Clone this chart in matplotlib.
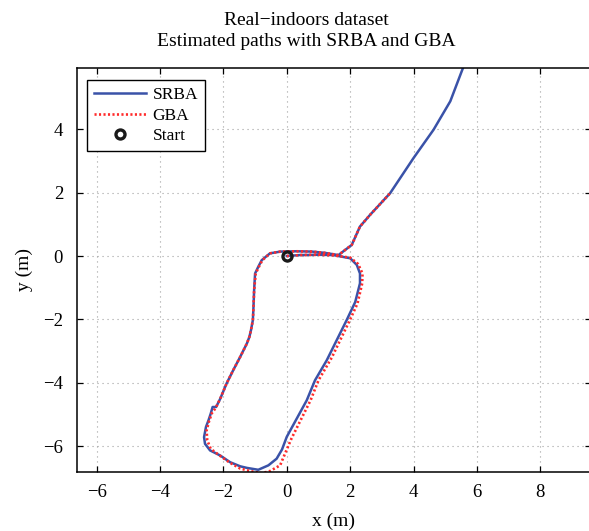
import matplotlib
matplotlib.use('Agg')
import matplotlib.pyplot as plt

plt.rcParams['font.family'] = ['Liberation Serif', 'DejaVu Serif']

# SRBA estimated path (m)
srba_x = [0.0, 0.4, 1.0, 1.47, 2.0, 2.21, 2.31, 2.31, 2.16, 1.89, 1.26, 0.89, 0.63,
          0.0, -0.15, -0.32, -0.58, -0.9, -1.26, -1.47, -1.79, -2.1, -2.42, -2.58,
          -2.61, -2.55, -2.47, -2.4, -2.34, -2.23, -2.1, -1.9, -1.69, -1.47, -1.26,
          -1.18, -1.13, -1.07, -1.05, -1.03, -1.0, -0.9, -0.79, -0.53, -0.2, 0.3,
          0.8, 1.2, 1.63, 2.05, 2.31, 2.63, 3.26, 4.0, 4.63, 5.16, 5.56, 5.62]
srba_y = [0.0, 0.03, 0.04, 0.03, -0.07, -0.28, -0.55, -0.86, -1.45, -2.02, -3.29,
          -3.92, -4.55, -5.7, -6.1, -6.39, -6.6, -6.74, -6.68, -6.63, -6.5, -6.29,
          -6.13, -5.92, -5.71, -5.39, -5.18, -4.97, -4.76, -4.76, -4.5, -4.02, -3.6,
          -3.18, -2.76, -2.55, -2.34, -2.02, -1.6, -1.07, -0.55, -0.34, -0.13, 0.085,
          0.14, 0.15, 0.14, 0.1, 0.03, 0.35, 0.93, 1.3, 1.98, 3.09, 3.98, 4.88, 5.93, 6.1]

# GBA estimated path (m)
gba_x = [0.0, 0.4, 1.0, 1.47, 2.0, 2.25, 2.39, 2.38, 2.23, 1.99, 1.42, 1.0, 0.75,
         0.15, 0.0, -0.21, -0.53, -0.79, -1.16, -1.47, -1.79, -2.05, -2.4, -2.51,
         -2.53, -2.45, -2.36, -2.25, -2.1, -1.9, -1.69, -1.47, -1.26, -1.18, -1.13,
         -1.07, -1.05, -1.03, -0.98, -0.88, -0.77, -0.53, -0.2, 0.3, 0.8, 1.2, 1.63,
         2.05, 2.31, 2.63, 3.26]
gba_y = [0.0, 0.03, 0.04, 0.02, -0.05, -0.25, -0.55, -0.86, -1.5, -2.02, -3.2,
         -3.92, -4.55, -5.75, -6.1, -6.6, -6.78, -6.85, -6.78, -6.7, -6.52, -6.34,
         -6.08, -5.81, -5.5, -5.2, -4.95, -4.8, -4.5, -4.02, -3.6, -3.18, -2.76,
         -2.55, -2.34, -2.02, -1.6, -1.07, -0.55, -0.34, -0.13, 0.085, 0.14, 0.15,
         0.14, 0.1, 0.03, 0.35, 0.93, 1.3, 1.98]

start = (0.0, 0.0)

fig = plt.figure(figsize=(5.89, 5.31), dpi=100)
ax = fig.add_axes([0.1307, 0.1117, 0.8727, 0.7603])

ax.plot(srba_x, srba_y, color='#3a52a8', lw=1.8, label='SRBA')
ax.plot(gba_x, gba_y, color='#ff2a2a', lw=1.9, ls=(0, (0.8, 0.9)), label='GBA')
ax.plot([start[0]], [start[1]], 'o', ms=6.5, mfc='none', mec='#1a1a1a', mew=2.4,
        label='Start')

ax.set_xlim(-6.62, 9.6)
ax.set_ylim(-6.80, 5.93)
ax.set_xticks([-6, -4, -2, 0, 2, 4, 6, 8])
ax.set_yticks([-6, -4, -2, 0, 2, 4])
ax.grid(True, color='#a0a0a0', lw=0.8, ls=(0, (1, 3.5)))
ax.tick_params(direction='in', top=True, right=True, length=4, width=0.9,
               labelsize=13.5)
ax.tick_params(axis='x', pad=9)
ax.tick_params(axis='y', pad=10)
for s in ax.spines.values():
    s.set_linewidth(1.1)

ax.set_xlabel('x (m)', fontsize=14, labelpad=8)
ax.set_ylabel('y (m)', fontsize=14)
ax.yaxis.set_label_coords(-0.086, 0.5)
ax.set_title('Real\u2212indoors dataset\nEstimated paths with SRBA and GBA',
             fontsize=14, pad=16, linespacing=1.3, x=0.446)

leg = ax.legend(loc='upper left', bbox_to_anchor=(0.019, 0.970), borderaxespad=0,
                fontsize=12.5, handlelength=3.0, handletextpad=0.4,
                labelspacing=0.25, fancybox=False, framealpha=1, borderpad=0.4)
leg.get_frame().set_edgecolor('black')
leg.get_frame().set_linewidth(1.0)

fig.savefig('out.png', dpi=100)
